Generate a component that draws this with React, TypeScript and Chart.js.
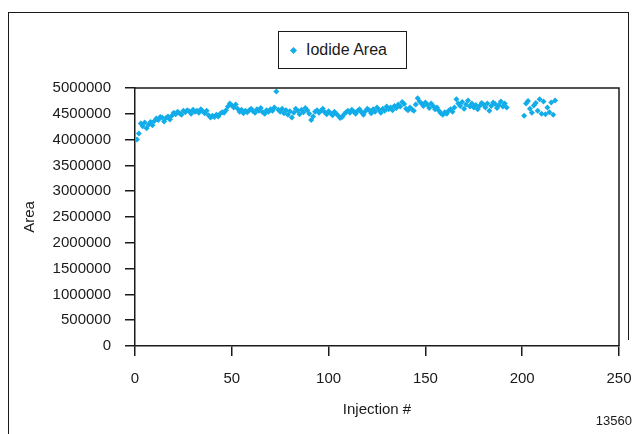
import React, { useEffect, useRef } from "react";
import { Chart, registerables } from "chart.js";

Chart.register(...registerables);

const injections: number[] = [
  1, 2, 3, 4, 5, 6, 7, 8, 9, 10,
  11, 12, 13, 14, 15, 16, 17, 18, 19, 20,
  21, 22, 23, 24, 25, 26, 27, 28, 29, 30,
  31, 32, 33, 34, 35, 36, 37, 38, 39, 40,
  41, 42, 43, 44, 45, 46, 47, 48, 49, 50,
  51, 52, 53, 54, 55, 56, 57, 58, 59, 60,
  61, 62, 63, 64, 65, 66, 67, 68, 69, 70,
  71, 72, 73, 74, 75, 76, 77, 78, 79, 80,
  81, 82, 83, 84, 85, 86, 87, 88, 89, 90,
  91, 92, 93, 94, 95, 96, 97, 98, 99, 100,
  101, 102, 103, 104, 105, 106, 107, 108, 109, 110,
  111, 112, 113, 114, 115, 116, 117, 118, 119, 120,
  121, 122, 123, 124, 125, 126, 127, 128, 129, 130,
  131, 132, 133, 134, 135, 136, 137, 138, 139, 140,
  141, 142, 143, 144, 145, 146, 147, 148, 149, 150,
  151, 152, 153, 154, 155, 156, 157, 158, 159, 160,
  161, 162, 163, 164, 165, 166, 167, 168, 169, 170,
  171, 172, 173, 174, 175, 176, 177, 178, 179, 180,
  181, 182, 183, 184, 185, 186, 187, 188, 189, 190,
  191, 192,
  201, 202, 203, 204, 205, 206, 207, 208, 209, 210,
  211, 212, 213, 214, 215, 216, 217,
];

const iodideArea: number[] = [
  4000000, 4120000, 4310000, 4260000, 4330000, 4220000, 4290000, 4340000, 4280000, 4360000,
  4410000, 4380000, 4440000, 4430000, 4350000, 4420000, 4450000, 4390000, 4460000, 4520000,
  4490000, 4540000, 4510000, 4480000, 4560000, 4530000, 4570000, 4550000, 4500000, 4580000,
  4540000, 4560000, 4520000, 4590000, 4550000, 4510000, 4560000, 4470000, 4430000, 4460000,
  4440000, 4480000, 4450000, 4500000, 4530000, 4520000, 4570000, 4640000, 4700000, 4660000,
  4620000, 4680000, 4600000, 4540000, 4580000, 4510000, 4560000, 4530000, 4570000, 4600000,
  4550000, 4520000, 4590000, 4560000, 4610000, 4530000, 4500000, 4570000, 4540000, 4590000,
  4560000, 4620000, 4930000, 4580000, 4540000, 4600000, 4510000, 4570000, 4480000, 4550000,
  4430000, 4520000, 4600000, 4560000, 4490000, 4580000, 4530000, 4610000, 4570000, 4500000,
  4380000, 4450000, 4540000, 4570000, 4520000, 4560000, 4600000, 4530000, 4490000, 4550000,
  4510000, 4470000, 4540000, 4500000, 4460000, 4420000, 4440000, 4490000, 4530000, 4560000,
  4520000, 4580000, 4540000, 4500000, 4560000, 4590000, 4530000, 4480000, 4550000, 4600000,
  4570000, 4510000, 4590000, 4540000, 4620000, 4580000, 4520000, 4600000, 4560000, 4640000,
  4590000, 4620000, 4570000, 4650000, 4610000, 4680000, 4640000, 4730000, 4690000, 4600000,
  4570000, 4620000, 4590000, 4560000, 4680000, 4800000, 4740000, 4700000, 4650000, 4720000,
  4680000, 4610000, 4700000, 4650000, 4590000, 4620000, 4560000, 4510000, 4480000, 4530000,
  4500000, 4560000, 4590000, 4540000, 4620000, 4780000, 4700000, 4650000, 4730000, 4600000,
  4680000, 4760000, 4640000, 4700000, 4620000, 4670000, 4590000, 4650000, 4710000, 4680000,
  4620000, 4700000, 4560000, 4650000, 4720000, 4690000, 4610000, 4670000, 4740000, 4640000,
  4700000, 4620000,
  4460000, 4700000, 4750000, 4600000, 4520000, 4660000, 4710000, 4560000, 4780000, 4500000,
  4740000, 4490000, 4620000, 4530000, 4720000, 4480000, 4760000,
];

const seriesLabel = "Iodide Area";
const xTitle = "Injection #";
const yTitle = "Area";
const figureId = "13560";

const FONT = "'Liberation Sans', Arial, sans-serif";
const INK = "#1a1a1a";
const POINT = "#12ade9";

const framePlugin = {
  id: "frame",
  afterDraw(chart: any) {
    const { ctx, chartArea } = chart;
    ctx.save();
    ctx.strokeStyle = INK;
    ctx.lineWidth = 1.5;
    ctx.beginPath();
    ctx.moveTo(chartArea.left, chartArea.top);
    ctx.lineTo(chartArea.right, chartArea.top);
    ctx.lineTo(chartArea.right, chartArea.bottom);
    ctx.stroke();
    ctx.restore();
  },
};

export default function App() {
  const ref = useRef<HTMLCanvasElement | null>(null);

  useEffect(() => {
    if (!ref.current) return;
    const points = injections.map((x, i) => ({ x, y: iodideArea[i] }));
    const chart = new Chart(ref.current, {
      type: "scatter",
      data: {
        datasets: [
          {
            label: seriesLabel,
            data: points,
            pointStyle: "rectRot",
            pointRadius: 3,
            pointBackgroundColor: POINT,
            pointBorderWidth: 0,
            backgroundColor: POINT,
          },
        ],
      },
      options: {
        animation: false,
        responsive: false,
        devicePixelRatio: 1,
        layout: { padding: { top: 88, right: 18, left: 8, bottom: 0 } },
        plugins: {
          legend: { display: false },
          tooltip: { enabled: false },
        },
        scales: {
          x: {
            type: "linear",
            min: 0,
            max: 250,
            afterFit: (scale: any) => {
              scale.height = 88;
              scale.paddingLeft = 0;
              scale.paddingRight = 0;
            },
            ticks: {
              stepSize: 50,
              autoSkip: false,
              maxRotation: 0,
              color: INK,
              padding: 14,
              font: { family: FONT, size: 15 },
            },
            grid: {
              drawOnChartArea: false,
              drawTicks: true,
              tickLength: 10,
              color: INK,
              lineWidth: 1.5,
            },
            border: { color: INK, width: 1.5 },
            title: {
              display: true,
              text: xTitle,
              color: INK,
              font: { family: FONT, size: 15 },
              padding: { top: 4, bottom: 15 },
            },
          },
          y: {
            type: "linear",
            min: 0,
            max: 5000000,
            afterFit: (scale: any) => {
              scale.width = 127;
              scale.paddingTop = 0;
              scale.paddingBottom = 0;
            },
            ticks: {
              stepSize: 500000,
              autoSkip: false,
              color: INK,
              padding: 14,
              font: { family: FONT, size: 15 },
              callback: (v: any) => String(v),
            },
            grid: {
              drawOnChartArea: false,
              drawTicks: true,
              tickLength: 10,
              color: INK,
              lineWidth: 1.5,
            },
            border: { color: INK, width: 1.5 },
            title: {
              display: true,
              text: yTitle,
              color: INK,
              font: { family: FONT, size: 15 },
              padding: { top: 13, bottom: 4 },
            },
          },
        },
      },
      plugins: [framePlugin],
    });
    return () => chart.destroy();
  }, []);

  return (
    <div>
      <div
        style={{
          position: "fixed",
          left: 8,
          top: 12,
          width: 620,
          height: 440,
          borderLeft: `1.5px solid ${INK}`,
          borderTop: `1.5px solid ${INK}`,
          boxSizing: "border-box",
        }}
      />
      <div
        style={{
          position: "fixed",
          left: 628,
          top: 12,
          width: 0,
          height: 328,
          borderLeft: `1.5px solid ${INK}`,
        }}
      />
      <canvas
        ref={ref}
        width={637}
        height={434}
        style={{ position: "fixed", left: 0, top: 0, width: 637, height: 434 }}
      />
      <div
        style={{
          position: "fixed",
          left: 278,
          top: 31,
          width: 129,
          height: 38,
          border: `1.5px solid ${INK}`,
          boxSizing: "border-box",
          display: "flex",
          alignItems: "center",
          fontFamily: FONT,
          fontSize: 16,
          color: INK,
          background: "#fff",
        }}
      >
        <span
          style={{
            display: "inline-block",
            width: 5,
            height: 5,
            background: POINT,
            transform: "rotate(45deg)",
            marginLeft: 12,
            marginRight: 10,
          }}
        />
        <span>{seriesLabel}</span>
      </div>
      <div
        style={{
          position: "fixed",
          right: 5,
          top: 413,
          fontFamily: FONT,
          fontSize: 13,
          color: INK,
        }}
      >
        {figureId}
      </div>
    </div>
  );
}
